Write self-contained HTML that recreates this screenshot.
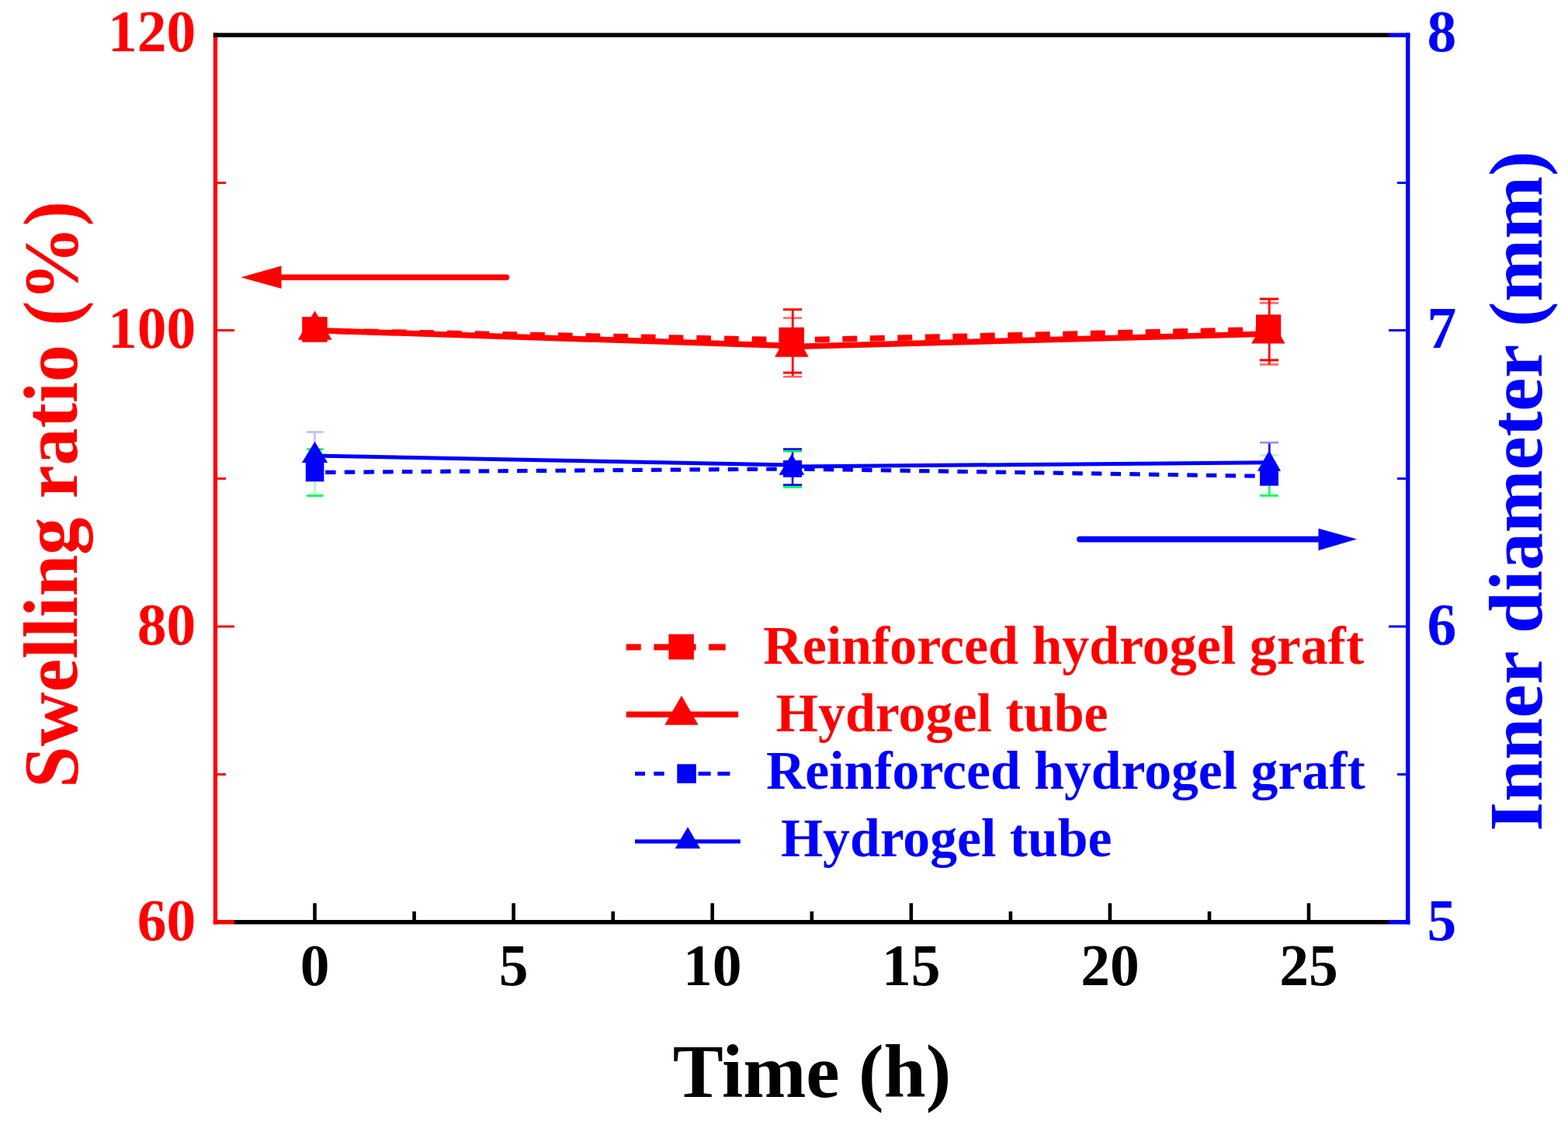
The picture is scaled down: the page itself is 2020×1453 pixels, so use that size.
<!DOCTYPE html>
<html><head><meta charset="utf-8">
<style>
html,body{margin:0;padding:0;background:#fff;}
body{width:2020px;height:1453px;overflow:hidden;position:relative;}
svg{position:absolute;left:0;top:0;display:block;}
text{font-family:"Liberation Serif","Times New Roman",serif;font-weight:bold;}
</style></head>
<body>
<svg width="2020" height="1453" viewBox="0 0 2020 1453">
<rect x="0" y="0" width="2020" height="1453" fill="#fff"/>

<!-- ===== axes frame ===== -->
<g id="frame">
  <rect x="274.8" y="42.4" width="5.3" height="1148.2" fill="#f00"/>
  <rect x="274.8" y="42.4" width="1514.2" height="5.6" fill="#000"/>
  <rect x="1789" y="42.4" width="27.4" height="5.6" fill="#00f"/>
  <rect x="1811" y="42.4" width="5.4" height="1148.2" fill="#00f"/>
  <rect x="274.8" y="1185" width="27.2" height="5.6" fill="#f00"/>
  <rect x="302" y="1185" width="1487" height="5.6" fill="#000"/>
  <rect x="1789" y="1185" width="27.4" height="5.6" fill="#00f"/>
</g>

<!-- ticks -->
<g id="ticks">
  <!-- left major/minor -->
  <rect x="280" y="424" width="22" height="3" fill="#f00"/>
  <rect x="280" y="805.5" width="22" height="3" fill="#f00"/>
  <rect x="280" y="234" width="11" height="3" fill="#f00"/>
  <rect x="280" y="615" width="11" height="3" fill="#f00"/>
  <rect x="280" y="996" width="11" height="3" fill="#f00"/>
  <!-- right -->
  <rect x="1789" y="424" width="22" height="3" fill="#00f"/>
  <rect x="1789" y="805.5" width="22" height="3" fill="#00f"/>
  <rect x="1800" y="234" width="11" height="3" fill="#00f"/>
  <rect x="1800" y="615" width="11" height="3" fill="#00f"/>
  <rect x="1800" y="996" width="11" height="3" fill="#00f"/>
  <!-- bottom major -->
  <g fill="#000">
    <rect x="403.2" y="1163.4" width="4.6" height="22"/>
    <rect x="659.3" y="1163.4" width="4.6" height="22"/>
    <rect x="915.4" y="1163.4" width="4.6" height="22"/>
    <rect x="1171.5" y="1163.4" width="4.6" height="22"/>
    <rect x="1427.6" y="1163.4" width="4.6" height="22"/>
    <rect x="1683.7" y="1163.4" width="4.6" height="22"/>
    <rect x="531.3" y="1174" width="4.6" height="11"/>
    <rect x="787.4" y="1174" width="4.6" height="11"/>
    <rect x="1043.5" y="1174" width="4.6" height="11"/>
    <rect x="1299.6" y="1174" width="4.6" height="11"/>
    <rect x="1555.7" y="1174" width="4.6" height="11"/>
  </g>
</g>

<!-- tick labels -->
<g font-size="75.5" fill="#f00" text-anchor="end">
  <text x="252.3" y="66">120</text>
  <text x="252.3" y="448">100</text>
  <text x="252.3" y="829.5">80</text>
  <text x="252.3" y="1211">60</text>
</g>
<g font-size="75.5" fill="#00f" text-anchor="start">
  <text x="1838.5" y="66">8</text>
  <text x="1838.5" y="448">7</text>
  <text x="1838.5" y="829.5">6</text>
  <text x="1838.5" y="1211">5</text>
</g>
<g font-size="75.5" fill="#000" text-anchor="middle">
  <text x="405.5" y="1268.5">0</text>
  <text x="661.6" y="1268.5">5</text>
  <text x="917.7" y="1268.5">10</text>
  <text x="1173.8" y="1268.5">15</text>
  <text x="1429.9" y="1268.5">20</text>
  <text x="1686" y="1268.5">25</text>
</g>

<!-- axis titles -->
<text x="1046" y="1413" font-size="97.5" fill="#000" text-anchor="middle">Time (h)</text>
<text transform="translate(99,637) rotate(-90)" font-size="99" fill="#f00" text-anchor="middle" textLength="756" lengthAdjust="spacingAndGlyphs">Swelling ratio (%)</text>
<text transform="translate(1986,632.5) rotate(-90)" font-size="97.2" fill="#00f" text-anchor="middle">Inner diameter (mm)</text>


<!-- ===== arrows ===== -->
<g id="arrows">
  <line x1="360" y1="357.2" x2="652.5" y2="357.2" stroke="#f00" stroke-width="7.5" stroke-linecap="round"/>
  <polygon points="310.3,357.2 362.5,342.6 362.5,371.8" fill="#f00"/>
  <line x1="1391" y1="694.6" x2="1700" y2="694.6" stroke="#00f" stroke-width="7.8" stroke-linecap="round"/>
  <polygon points="1748,694.6 1698.5,680.7 1698.5,708.9" fill="#00f"/>
</g>

<!-- ===== red series ===== -->
<g id="red-series">
  <!-- error bars -->
  <g fill="#f00">
    <rect x="1019.8" y="398" width="2.8" height="86"/>
    <rect x="1009" y="397.2" width="24" height="3"/>
    <rect x="1009" y="478.6" width="24" height="3"/>
    <rect x="1009" y="408.3" width="24" height="2.6" opacity="0.6"/>
    <rect x="1009" y="484" width="24" height="2.6" opacity="0.6"/>
    <rect x="1633.8" y="384.5" width="2.8" height="85"/>
    <rect x="1622.8" y="383.6" width="24.4" height="3"/>
    <rect x="1622.8" y="462.4" width="24.4" height="3"/>
    <rect x="1622.8" y="389" width="24.4" height="2.6" opacity="0.6"/>
    <rect x="1622.8" y="468.2" width="24.4" height="2.6" opacity="0.6"/>
  </g>
  <line x1="405.5" y1="425.5" x2="1020.5" y2="445.5" stroke="#f00" stroke-width="7.5"/>
  <line x1="1020.5" y1="446.5" x2="1635.5" y2="430" stroke="#f00" stroke-width="7.5"/>
  <line x1="405.5" y1="426" x2="1020.5" y2="438" stroke="#f00" stroke-width="7.5" stroke-dasharray="18.7 17" stroke-dashoffset="7.9"/>
  <line x1="1020.5" y1="438.2" x2="1635.5" y2="424.4" stroke="#f00" stroke-width="7.5" stroke-dasharray="19 16.5" stroke-dashoffset="6.2"/>
  <!-- squares -->
  <g fill="#f00">
    <rect x="389.2" y="408.2" width="32.5" height="32.5"/>
    <rect x="1003.4" y="421.7" width="32.5" height="32.5"/>
    <rect x="1618" y="405.3" width="32.2" height="32.5"/>
  </g>
  <!-- triangles: apex, base -->
  <g fill="#f00">
    <polygon points="405.5,400.2 383.8,437.7 427.6,437.7"/>
    <polygon points="1020,422.6 998,459.8 1041.8,459.8"/>
    <polygon points="1634,405.4 1612,442.6 1655.6,442.6"/>
  </g>
</g>

<!-- ===== blue series ===== -->
<g id="blue-series">
  <!-- error bars -->
  <g>
    <rect x="404" y="556" width="3" height="14" fill="#c4c4ff"/>
    <rect x="395" y="555" width="21.6" height="3" fill="#c4c4ff"/>
    <rect x="404" y="620" width="3" height="18" fill="#b8ffc8"/>
    <rect x="395" y="637" width="21.6" height="3" fill="#00ff55"/>
    <rect x="395" y="577.2" width="21.6" height="3" fill="#00ff55"/>

    <rect x="1019.7" y="578" width="2.6" height="48" fill="#00f"/>
    <rect x="1009" y="577.2" width="24" height="2.6" fill="#00f"/>
    <rect x="1009" y="580" width="24" height="2.6" fill="#00ff55"/>
    <rect x="1009" y="623.3" width="24" height="2.6" fill="#00f"/>
    <rect x="1009" y="626.1" width="24" height="2.8" fill="#00ff55"/>

    <rect x="1634" y="570" width="2.6" height="14" fill="#00f"/>
    <rect x="1623" y="568.8" width="24" height="2.6" fill="#8c8cff"/>
    <rect x="1623" y="585.2" width="24" height="2.6" fill="#a8ffc0"/>
    <rect x="1634" y="625" width="2.6" height="14" fill="#00ff55"/>
    <rect x="1623" y="637" width="24" height="2.8" fill="#00ff55"/>
  </g>
  <line x1="405.5" y1="587" x2="1020.5" y2="599" stroke="#00f" stroke-width="5"/>
  <line x1="1020.5" y1="601" x2="1635.5" y2="595.8" stroke="#00f" stroke-width="5"/>
  <line x1="405.5" y1="608.5" x2="1020.5" y2="604" stroke="#00f" stroke-width="5.2" stroke-dasharray="13.5 11.2" stroke-dashoffset="11.1"/>
  <line x1="1020.5" y1="604" x2="1635.5" y2="613.5" stroke="#00f" stroke-width="5.2" stroke-dasharray="13.4 11.26" stroke-dashoffset="9"/>
  <g fill="#00f">
    <rect x="393.8" y="596" width="23.6" height="24.3"/>
    <rect x="1009" y="593" width="24" height="21.7"/>
    <rect x="1623" y="602" width="24" height="23.7"/>
  </g>
  <g fill="#00f">
    <polygon points="405.5,568.8 388.9,596 422.2,596"/>
    <polygon points="1020,585 1003.4,611.7 1036.4,611.7"/>
    <polygon points="1635,580.3 1619.9,606.8 1650,606.8"/>
  </g>
</g>

<!-- ===== legend ===== -->
<g id="legend">
  <g fill="#f00">
    <rect x="806.7" y="829.6" width="19" height="8"/>
    <rect x="842.3" y="829.6" width="54.3" height="8"/>
    <rect x="913" y="829.6" width="21.7" height="8"/>
    <rect x="861.4" y="817" width="32.5" height="32.5"/>
    <rect x="806.7" y="916.5" width="144.5" height="7.6"/>
    <polygon points="878,896 856.3,933.7 899.6,933.7"/>
  </g>
  <g fill="#00f">
    <rect x="818" y="994" width="13" height="5.2"/>
    <rect x="842.3" y="994" width="13.4" height="5.2"/>
    <rect x="899.6" y="994" width="16" height="5.2"/>
    <rect x="924.4" y="994" width="16" height="5.2"/>
    <rect x="872.3" y="984.3" width="24.5" height="24.6"/>
    <rect x="818" y="1081.3" width="135.8" height="5.2"/>
    <polygon points="886,1065.3 869.7,1093 902.2,1093"/>
  </g>
  <g font-size="69.7">
    <text x="983.2" y="854.5" fill="#f00" textLength="774" lengthAdjust="spacingAndGlyphs">Reinforced hydrogel graft</text>
    <text x="999.6" y="941.6" fill="#f00" textLength="428" lengthAdjust="spacingAndGlyphs">Hydrogel tube</text>
    <text x="987" y="1016" fill="#00f">Reinforced hydrogel graft</text>
    <text x="1005.9" y="1103.2" fill="#00f">Hydrogel tube</text>
  </g>
</g>

</svg>
</body></html>
